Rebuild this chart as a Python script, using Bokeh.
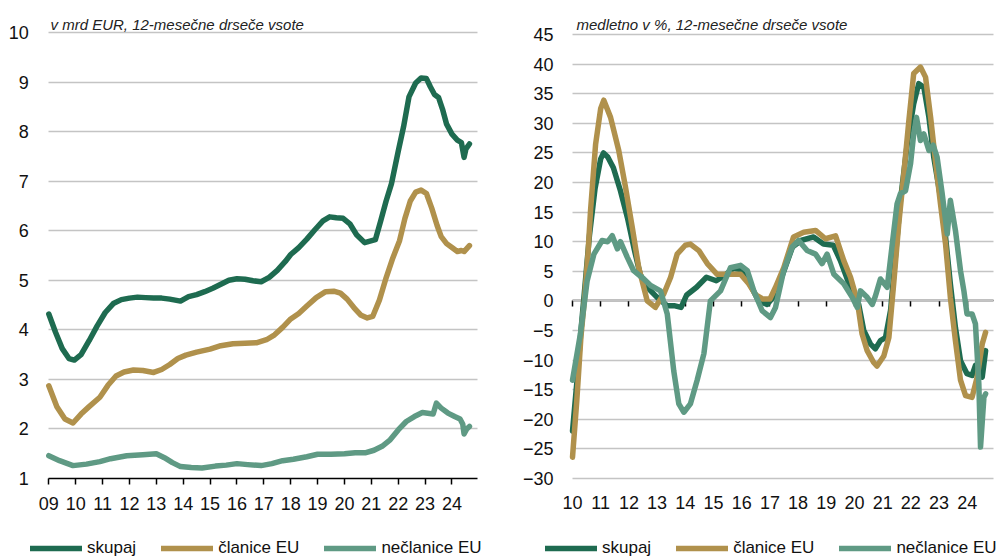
from bokeh.plotting import figure
from bokeh.layouts import row
from bokeh.models import LinearAxis, FixedTicker, Legend, LegendItem, Grid, Label
from bokeh.embed import file_html
from bokeh.resources import INLINE

# ---------------- data: left chart (v mrd EUR) ----------------
l_sk_x = [2009.0, 2009.25, 2009.5, 2009.75, 2009.95, 2010.2, 2010.5, 2010.8, 2011.1, 2011.4, 2011.7,
          2012.0, 2012.3, 2012.6, 2012.9, 2013.2, 2013.5, 2013.9, 2014.2, 2014.5, 2014.8, 2015.1, 2015.4,
          2015.7, 2016.0, 2016.3, 2016.6, 2016.9, 2017.2, 2017.5, 2017.8, 2018.0, 2018.3, 2018.6, 2018.9,
          2019.2, 2019.45, 2019.7, 2019.95, 2020.2, 2020.45, 2020.75, 2020.95, 2021.15, 2021.35, 2021.55,
          2021.75, 2022.0, 2022.2, 2022.4, 2022.65, 2022.85, 2023.05, 2023.2, 2023.35, 2023.5, 2023.65,
          2023.8, 2024.0, 2024.2, 2024.35, 2024.45, 2024.52, 2024.65]
l_sk_y = [4.32, 3.95, 3.62, 3.42, 3.39, 3.5, 3.78, 4.08, 4.35, 4.53, 4.61,
          4.64, 4.66, 4.65, 4.64, 4.64, 4.62, 4.58, 4.67, 4.71, 4.77, 4.84, 4.92,
          5.0, 5.03, 5.02, 4.99, 4.97, 5.06, 5.2, 5.38, 5.52, 5.66, 5.83, 6.02,
          6.2, 6.28, 6.26, 6.25, 6.14, 5.92, 5.76, 5.79, 5.82, 6.2, 6.6,
          6.95, 7.6, 8.1, 8.7, 8.98, 9.08, 9.07, 8.9, 8.75, 8.69, 8.45,
          8.15, 7.95, 7.83, 7.78, 7.48, 7.65, 7.75]

l_cl_x = [2009.0, 2009.3, 2009.6, 2009.9, 2010.2, 2010.5, 2010.9, 2011.2, 2011.5, 2011.8, 2012.15,
          2012.5, 2012.9, 2013.2, 2013.5, 2013.8, 2014.1, 2014.5, 2015.0, 2015.4, 2015.85, 2016.3,
          2016.75, 2017.1, 2017.4, 2017.7, 2018.0, 2018.3, 2018.6, 2018.95, 2019.3, 2019.6, 2019.85,
          2020.1, 2020.35, 2020.6, 2020.85, 2021.05, 2021.3, 2021.55, 2021.8, 2022.05, 2022.25, 2022.45,
          2022.65, 2022.85, 2023.05, 2023.25, 2023.45, 2023.6, 2023.8, 2024.0, 2024.2, 2024.35, 2024.45,
          2024.65]
l_cl_y = [2.87, 2.45, 2.2, 2.12, 2.3, 2.45, 2.64, 2.88, 3.07, 3.15, 3.19,
          3.18, 3.14, 3.2, 3.3, 3.42, 3.49, 3.55, 3.61, 3.68, 3.72, 3.73,
          3.74, 3.8, 3.9, 4.05, 4.22, 4.33, 4.48, 4.65, 4.77, 4.78, 4.74,
          4.62, 4.45, 4.3, 4.24, 4.27, 4.6, 5.05, 5.45, 5.8, 6.25, 6.6,
          6.78, 6.82, 6.75, 6.45, 6.1, 5.88, 5.74, 5.66, 5.58, 5.6, 5.58,
          5.7]

l_ne_x = [2009.0, 2009.4, 2009.9, 2010.4, 2010.9, 2011.3, 2011.9, 2012.5, 2013.0, 2013.3, 2013.6,
          2013.9, 2014.3, 2014.7, 2015.2, 2015.6, 2016.0, 2016.4, 2016.9, 2017.3, 2017.7, 2018.1,
          2018.6, 2019.0, 2019.5, 2020.0, 2020.4, 2020.8, 2021.1, 2021.4, 2021.7, 2022.0, 2022.3,
          2022.6, 2022.9, 2023.3, 2023.42, 2023.6, 2023.85, 2024.1, 2024.3, 2024.4, 2024.45, 2024.55,
          2024.65]
l_ne_y = [1.46, 1.36, 1.26, 1.29, 1.34, 1.4, 1.46, 1.48, 1.5, 1.42, 1.32,
          1.24, 1.22, 1.21, 1.25, 1.27, 1.3, 1.28, 1.26, 1.3, 1.36, 1.39,
          1.44, 1.49, 1.49, 1.5, 1.52, 1.52, 1.57, 1.65, 1.78, 1.98, 2.15,
          2.25, 2.33, 2.3, 2.52, 2.42, 2.32, 2.25, 2.2, 2.1, 1.9, 2.0,
          2.05]

# ---------------- data: right chart (medletno v %) ----------------
r_sk_x = [2010.0, 2010.15, 2010.3, 2010.45, 2010.6, 2010.8, 2011.0, 2011.1, 2011.25, 2011.45, 2011.7,
          2011.95, 2012.2, 2012.4, 2012.65, 2013.0, 2013.35, 2013.6, 2013.85, 2014.05, 2014.4, 2014.75,
          2015.1, 2015.4, 2015.7, 2015.95, 2016.25, 2016.6, 2016.9, 2017.2, 2017.5, 2017.8, 2018.1,
          2018.55, 2018.9, 2019.25, 2019.5, 2019.85, 2020.15, 2020.33, 2020.57, 2020.74, 2020.92, 2021.1,
          2021.28, 2021.45, 2021.63, 2021.87, 2022.1, 2022.28, 2022.46, 2022.64, 2022.81, 2023.05,
          2023.23, 2023.4, 2023.58, 2023.76, 2023.99, 2024.17, 2024.29, 2024.41, 2024.53, 2024.65]
r_sk_y = [-22, -14, -5, 3, 11, 19, 24, 25, 24.3, 22.5, 18.6,
          14, 8.5, 4.5, 2.3, 0.6, -0.8, -0.8, -1.1, 1.0, 2.3, 4.0,
          3.4, 4.3, 5.5, 5.3, 3.2, 0, -0.6, 1.1, 5.1, 9.1, 10.2,
          10.8, 9.6, 9.4, 6.8, 2.3, -0.6, -5, -7.3, -8.1, -6.7, -6.2,
          -1.6, 7.4, 17, 26.5, 33.3, 36.7, 36.1, 31, 24.3, 17.5,
          10.8, 2.9, -4.5, -10.1, -12.3, -12.6, -10.9, -11.5, -12.9, -8.4]

r_cl_x = [2010.0, 2010.15, 2010.3, 2010.42, 2010.55, 2010.64, 2010.82, 2011.0, 2011.11, 2011.35, 2011.64,
          2011.88, 2012.12, 2012.35, 2012.65, 2012.94, 2013.24, 2013.48, 2013.71, 2014.0, 2014.18, 2014.48,
          2014.78, 2015.13, 2015.6, 2015.96, 2016.25, 2016.5, 2016.75, 2017.0, 2017.2, 2017.49, 2017.84,
          2018.2, 2018.62, 2018.97, 2019.33, 2019.62, 2019.86, 2020.1, 2020.27, 2020.45, 2020.68, 2020.8,
          2021.04, 2021.22, 2021.39, 2021.57, 2021.75, 2021.93, 2022.1, 2022.34, 2022.52, 2022.7, 2022.87,
          2023.05, 2023.23, 2023.4, 2023.58, 2023.76, 2023.94, 2024.17, 2024.35, 2024.53, 2024.65]
r_cl_y = [-26.4, -17, -6, 0, 8, 15.3, 26.5, 32.5, 33.9, 31, 25.4,
          19.2, 12.4, 5.6, 0, -1.1, 1.2, 4.0, 7.9, 9.4, 9.6, 8.5,
          6.3, 4.5, 4.5, 4.5, 2.9, 1, 0.3, 0.3, 2.3, 5.6, 10.8,
          11.6, 11.9, 10.5, 11.0, 6.8, 4.0, 0, -5.6, -8.4, -10.4, -11,
          -9.3, -6.2, 2.9, 13.0, 21.5, 30.5, 38.4, 39.5, 37.8, 31, 23.7,
          16.4, 9.6, 0.6, -6.7, -13.4, -16, -16.3, -12.9, -7.3, -5.3]

r_ne_x = [2010.0, 2010.28, 2010.52, 2010.76, 2011.05, 2011.25, 2011.41, 2011.59, 2011.7, 2011.94, 2012.17,
          2012.53, 2012.77, 2013.12, 2013.36, 2013.59, 2013.77, 2013.95, 2014.18, 2014.42, 2014.66, 2014.89,
          2015.25, 2015.6, 2015.96, 2016.2, 2016.43, 2016.73, 2017.02, 2017.2, 2017.49, 2017.79, 2018.02,
          2018.32, 2018.62, 2018.85, 2019.03, 2019.27, 2019.62, 2019.92, 2020.1, 2020.21, 2020.45, 2020.63,
          2020.74, 2020.92, 2021.16, 2021.34, 2021.51, 2021.63, 2021.81, 2021.99, 2022.1, 2022.2, 2022.34,
          2022.46, 2022.64, 2022.79, 2022.93, 2023.11, 2023.29, 2023.4, 2023.58, 2023.76, 2023.88, 2023.99,
          2024.17, 2024.29, 2024.41, 2024.47, 2024.59, 2024.65]
r_ne_y = [-13.4, -5.6, 3.4, 7.9, 10.2, 10.0, 11.0, 8.8, 10, 7.4, 5.1,
          3.7, 2.6, 1.7, -2.2, -11.8, -17.4, -18.8, -17.4, -13.4, -8.9, 0,
          1.7, 5.6, 6.0, 5.1, 1.7, -1.7, -2.8, -1.1, 5.1, 9.1, 10.2,
          8.5, 7.9, 6.3, 7.9, 4.5, 2.9, 0.6, -1.1, 1.7, 0.6, -0.6,
          0.8, 3.7, 2.3, 9.6, 16.4, 18.1, 18.6, 23.2, 28.2, 31, 27.1,
          28.2, 25.4, 26.3, 24.3, 18.1, 11.3, 17, 11.9, 5.1, 1.7, -2.2,
          -2.2, -3.9, -14, -24.7, -16.3, -15.7]

left_years = list(range(2009, 2025))
right_years = list(range(2010, 2025))
left_yticks = list(range(1, 11))
right_yticks = list(range(-30, 50, 5))

left_note = "v mrd EUR, 12-mesečne drseče vsote"
right_note = "medletno v %, 12-mesečne drseče vsote"
series_names = ["skupaj", "članice EU", "nečlanice EU"]
colors = ["#1e6b50", "#b0914c", "#5f9a84"]

TICK_FONT = "'Liberation Sans', Arial, sans-serif"
GRID = "#c4c4c4"
CANVAS_H = 560


class PxMap:
    """Pixel <-> data mapping for a frame that covers the whole canvas."""
    def __init__(self, width, x_lo, x_hi, px_lo, px_hi, y_top, y_bot, py_top, py_bot):
        self.xs = (x_hi - x_lo) / (px_hi - px_lo)
        self.x0 = x_lo - px_lo * self.xs
        self.x1 = self.x0 + width * self.xs
        self.ys = (y_top - y_bot) / (py_bot - py_top)
        self.y1 = y_top + py_top * self.ys
        self.y0 = y_bot - (CANVAS_H - py_bot) * self.ys

    def x(self, px):
        return self.x0 + px * self.xs

    def y(self, py):
        return self.y1 - py * self.ys


def make_fig(width, m):
    p = figure(width=width, height=CANVAS_H, x_range=(m.x0, m.x1), y_range=(m.y0, m.y1),
               x_axis_location=None, y_axis_location=None,
               output_backend="svg", toolbar_location=None,
               min_border_left=0, min_border_right=0, min_border_top=0, min_border_bottom=0)
    # hide the default grids (they would pick up the custom axes' tickers)
    p.xgrid.visible = False
    p.ygrid.visible = False
    for r in p.center:
        if isinstance(r, Grid):
            r.visible = False
    p.outline_line_color = None
    p.border_fill_color = "white"
    p.background_fill_color = "white"
    return p


def add_note(p, m, text, px, py):
    p.add_layout(Label(x=m.x(px), y=m.y(py), text=text, text_font=TICK_FONT,
                       text_font_style="italic", text_font_size="15px", text_color="#222222",
                       text_align="left", text_baseline="alphabetic"))


def add_hgrid(p, ticks, x_lo, x_hi):
    g = Grid(dimension=1, ticker=FixedTicker(ticks=ticks), grid_line_color=GRID, grid_line_width=1.5)
    try:
        g.cross_bounds = (x_lo, x_hi)
        p.add_layout(g)
    except AttributeError:
        p.segment(x0=[x_lo] * len(ticks), x1=[x_hi] * len(ticks), y0=ticks, y1=ticks,
                  line_color=GRID, line_width=1.5, level="underlay")


def add_yaxis(p, ticks, x_at, standoff):
    ax = LinearAxis(fixed_location=x_at, ticker=FixedTicker(ticks=ticks),
                    axis_line_color=None, major_tick_line_color=None, minor_tick_line_color=None,
                    major_tick_in=0, major_tick_out=0, major_label_standoff=standoff,
                    major_label_text_font=TICK_FONT, major_label_text_font_size="18px",
                    major_label_text_color="#111111")
    p.add_layout(ax, "left")


def add_xaxis(p, years, y_at, bounds, with_line, with_labels, standoff):
    ax = LinearAxis(fixed_location=y_at, ticker=FixedTicker(ticks=years), bounds=bounds,
                    minor_tick_line_color=None, major_tick_in=0,
                    major_label_standoff=standoff,
                    major_label_text_font=TICK_FONT, major_label_text_font_size="18px",
                    major_label_text_color="#111111")
    if with_line:
        ax.axis_line_color = "black"
        ax.axis_line_width = 1.5
        ax.major_tick_line_color = "black"
        ax.major_tick_line_width = 1.5
        ax.major_tick_out = 6
    else:
        ax.axis_line_color = None
        ax.major_tick_line_color = None
        ax.major_tick_out = 0
    if with_labels:
        ax.major_label_overrides = {y: "%02d" % (y % 100) for y in years}
    else:
        ax.major_label_text_alpha = 0
        ax.major_label_text_font_size = "1px"
    ax.level = "underlay"
    p.add_layout(ax, "below")


def add_legend(p, renderers, x_px):
    items = [LegendItem(label=n, renderers=[r]) for n, r in zip(series_names, renderers)]
    leg = Legend(items=items, orientation="horizontal", location=(x_px, 2))
    leg.label_text_font = TICK_FONT
    leg.label_text_font_size = "17px"
    leg.label_text_color = "#111111"
    leg.glyph_width = 52
    leg.glyph_height = 20
    leg.label_height = 20
    leg.label_standoff = 5
    leg.spacing = 25
    leg.padding = 0
    leg.margin = 0
    leg.border_line_color = None
    leg.background_fill_alpha = 0
    p.add_layout(leg, "center")


# ---------------- left figure ----------------
L_X_END = 2024.95
m1 = PxMap(500, 2009, L_X_END, 48.3, 477, 10, 1, 32, 478)
p1 = make_fig(500, m1)
add_hgrid(p1, left_yticks[1:], 2009, L_X_END)
add_xaxis(p1, left_years, 1, (2009, L_X_END), True, True, 12)
add_yaxis(p1, left_yticks, 2009, 20)
add_note(p1, m1, left_note, 50, 24)
lr = []
for xs, ys, c in zip([l_sk_x, l_cl_x, l_ne_x], [l_sk_y, l_cl_y, l_ne_y], colors):
    lr.append(p1.line(xs, ys, line_color=c, line_width=5.5, line_join="round", line_cap="round"))
add_legend(p1, lr, 30)

# ---------------- right figure ----------------
R_X_END = 2024.93
m2 = PxMap(506, 2010, R_X_END, 72, 493, 45, -30, 34, 478)
p2 = make_fig(506, m2)
add_hgrid(p2, right_yticks, 2010, R_X_END)
add_xaxis(p2, right_years, -30, (2010, R_X_END), False, True, 17)
add_xaxis(p2, right_years, 0, (2010, R_X_END), True, False, 0)
add_yaxis(p2, right_yticks, 2010, 19)
add_note(p2, m2, right_note, 76, 24)
rr = []
for xs, ys, c in zip([r_sk_x, r_cl_x, r_ne_x], [r_sk_y, r_cl_y, r_ne_y], colors):
    rr.append(p2.line(xs, ys, line_color=c, line_width=5.5, line_join="round", line_cap="round"))
add_legend(p2, rr, 45)

layout = row(p1, p2)
open("out.html", "w").write(file_html(layout, INLINE))
